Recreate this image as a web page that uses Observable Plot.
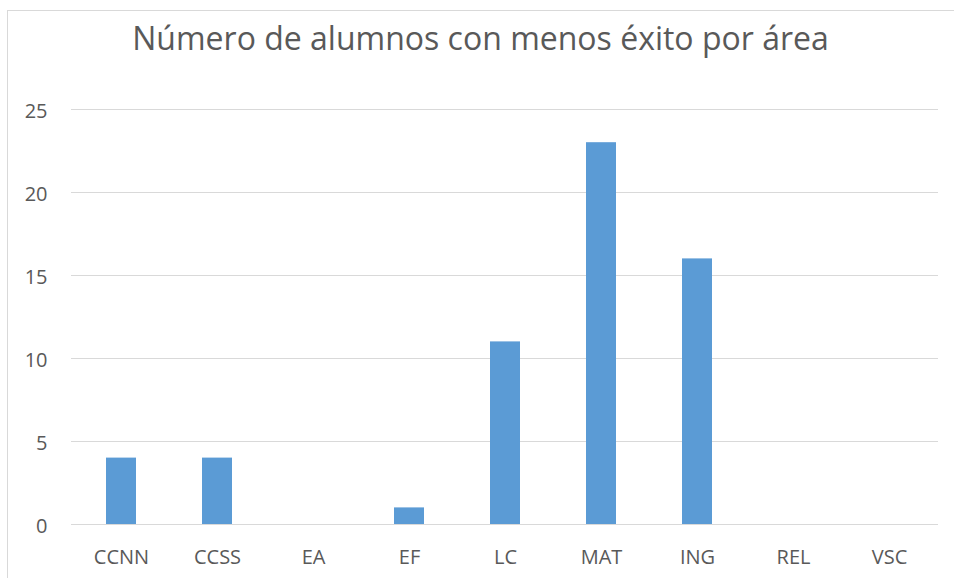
<!DOCTYPE html>
<html>
<head>
<meta charset="utf-8">
<script src="https://cdn.jsdelivr.net/npm/d3@7"></script>
<script src="https://cdn.jsdelivr.net/npm/@observablehq/plot@0.6"></script>
<style>
  html, body { margin: 0; padding: 0; background: #fff; }
  #wrap { position: relative; width: 954px; height: 578px; overflow: hidden; }
  #frame { position: absolute; left: 7px; top: 10px; right: -2px; bottom: -2px;
           border-left: 1px solid #d9d9d9; border-top: 1px solid #d9d9d9; }
  #chart { position: absolute; left: 0; top: 0; }
</style>
</head>
<body>
<div id="wrap"><div id="frame"></div><div id="chart"></div></div>
<script>
const title = "Número de alumnos con menos éxito por área";
const areas = ["CCNN", "CCSS", "EA", "EF", "LC", "MAT", "ING", "REL", "VSC"];
const counts = [4, 4, 0, 1, 11, 23, 16, 0, 0];
const yTicks = [0, 5, 10, 15, 20, 25];

const data = areas.map((a, i) => ({area: a, value: counts[i]}));
const textColor = "#595959";

const chart = Plot.plot({
  width: 954,
  height: 578,
  marginLeft: 71,
  marginRight: 16,
  marginTop: 109,
  marginBottom: 54,
  style: {fontFamily: "'Open Sans', sans-serif", fontSize: "20px", color: textColor, background: "transparent"},
  x: {domain: areas, paddingInner: 0.69, paddingOuter: 0.345, label: null},
  y: {domain: [0, 25], label: null},
  marks: [
    Plot.ruleY(yTicks, {stroke: "#d9d9d9", strokeWidth: 1.2}),
    Plot.barY(data, {x: "area", y: "value", fill: "#5b9bd5"}),
    Plot.axisY({ticks: yTicks, tickSize: 0, tickPadding: 24, dy: 2, fontSize: 20, fill: textColor, label: null}),
    Plot.axisX({tickSize: 0, tickPadding: 25, fontSize: 20, fill: textColor, label: null}),
    Plot.text([title], {frameAnchor: "top", lineAnchor: "bottom", dy: -59.5, dx: -24.5,
      fontSize: 32, fill: textColor, text: d => d})
  ]
});
document.getElementById("chart").appendChild(chart);
</script>
</body>
</html>
